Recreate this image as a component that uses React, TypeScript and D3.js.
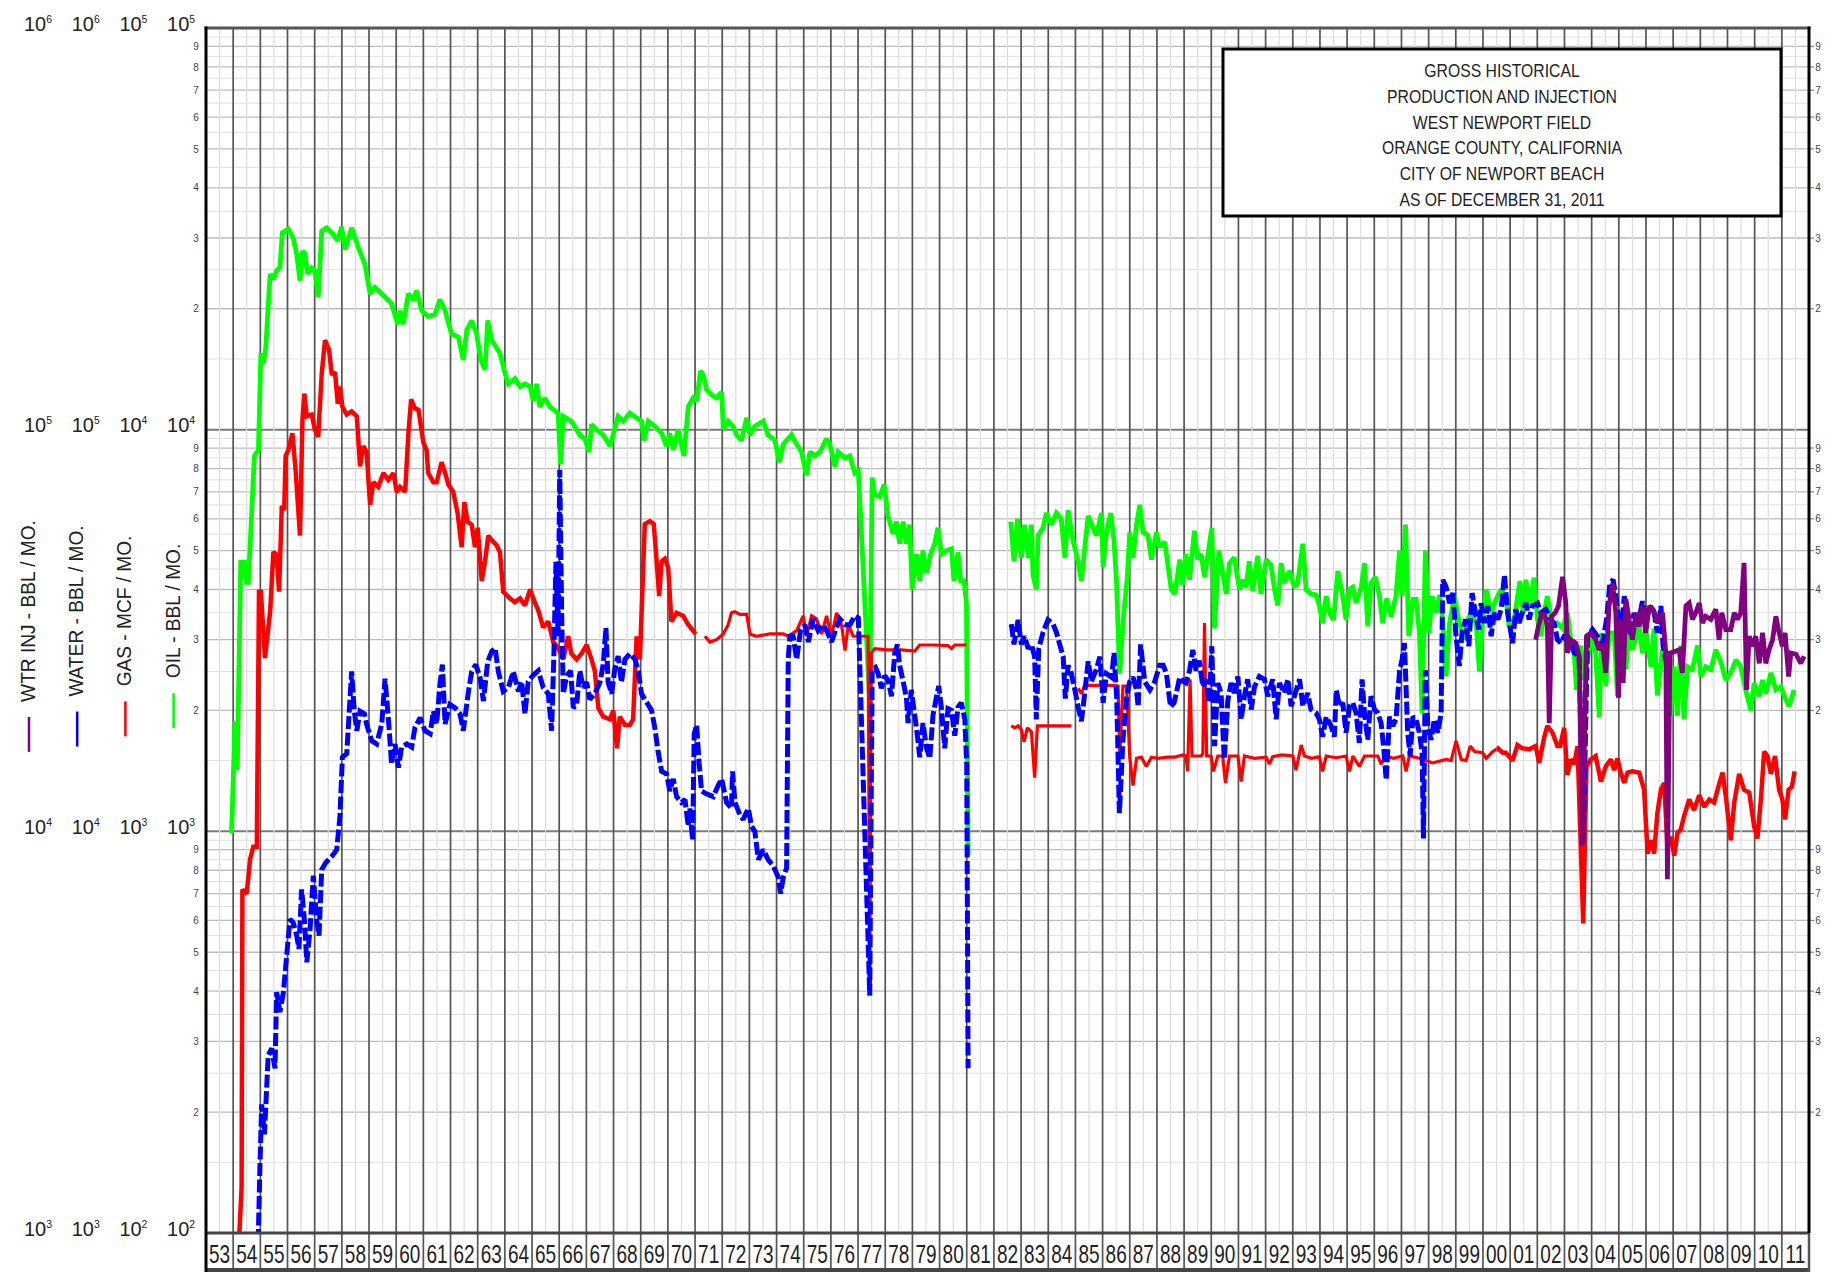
import React, { useLayoutEffect, useRef, useState } from "react";
import * as d3 from "d3";

type Pt = [number, number | null];

// ---- data ----
const years = d3.range(1953, 2012);
const yearLabels = years.map((y) => String(y % 100).padStart(2, "0"));

const titleLines = [
  "GROSS HISTORICAL",
  "PRODUCTION AND INJECTION",
  "WEST NEWPORT FIELD",
  "ORANGE COUNTY, CALIFORNIA",
  "CITY OF NEWPORT BEACH",
  "AS OF DECEMBER 31, 2011",
];

const seriesLabels = ["WTR INJ - BBL / MO.", "WATER - BBL / MO.", "GAS - MCF / MO.", "OIL - BBL / MO."];
const seriesColors = ["#800080", "#0000ff", "#ff0000", "#00ff00"];
const topExponents = [6, 6, 5, 5];
const minorLabels = [2, 3, 4, 5, 6, 7, 8, 9];

// OIL - BBL / MO.
const oil: Pt[] = [
  [1953.94, 990], [1954.07, 1880], [1954.15, 1420], [1954.28, 4680], [1954.41, 4680], [1954.5, 4170], [1954.56, 4170],
  [1954.66, 5770], [1954.78, 8600], [1954.93, 8900], [1955.02, 15500], [1955.11, 14600], [1955.2, 16000], [1955.36, 24400],
  [1955.48, 23700], [1955.6, 24900], [1955.72, 25300], [1955.81, 30900], [1956.03, 31600], [1956.21, 30000], [1956.34, 27300],
  [1956.46, 23500], [1956.55, 27800], [1956.64, 27500], [1956.74, 24400], [1956.89, 25300], [1957.01, 24900], [1957.13, 21400],
  [1957.26, 31200], [1957.44, 31800], [1957.69, 30600], [1957.85, 29500], [1957.99, 32000], [1958.12, 28100], [1958.36, 31800],
  [1958.61, 28400], [1958.85, 25800], [1959.04, 21800], [1959.22, 22600], [1959.59, 21400], [1959.83, 20600], [1960.06, 18300],
  [1960.14, 19800], [1960.26, 18300], [1960.45, 21800], [1960.63, 21000], [1960.75, 22200], [1960.94, 19800], [1961.18, 19100],
  [1961.43, 19400], [1961.61, 21100], [1961.8, 19800], [1962.04, 17300], [1962.29, 17000], [1962.47, 14900], [1962.6, 17700],
  [1962.78, 18700], [1962.96, 17300], [1963.12, 14900], [1963.27, 14100], [1963.37, 18700], [1963.52, 16700], [1963.82, 15500],
  [1964.01, 13800], [1964.13, 13000], [1964.37, 13400], [1964.56, 12800], [1964.74, 13000], [1964.93, 12800], [1965.04, 11800],
  [1965.17, 13000], [1965.29, 11400], [1965.47, 12000], [1965.66, 11400], [1965.96, 11000], [1966.05, 8200], [1966.15, 10800],
  [1966.45, 10500], [1966.76, 9700], [1966.94, 9500], [1967.1, 8800], [1967.19, 10300], [1967.37, 10000], [1967.62, 9700],
  [1967.87, 9100], [1968.17, 10800], [1968.36, 10500], [1968.6, 11000], [1968.85, 10700], [1969.03, 10500], [1969.12, 9400],
  [1969.28, 10500], [1969.52, 10200], [1969.77, 9800], [1969.95, 9100], [1970.07, 9800], [1970.2, 8900], [1970.38, 10000],
  [1970.59, 8600], [1970.75, 11400], [1970.93, 12000], [1971.06, 11800], [1971.2, 14000], [1971.3, 13700], [1971.42, 12600],
  [1971.61, 12200], [1971.79, 12000], [1971.98, 12400], [1972.04, 10000], [1972.22, 10500], [1972.4, 10200], [1972.53, 9700],
  [1972.71, 9400], [1972.9, 10700], [1973.02, 9700], [1973.2, 10200], [1973.51, 10500], [1973.69, 9700], [1973.94, 9400],
  [1974.1, 8300], [1974.25, 9200], [1974.55, 9700], [1974.74, 9200], [1974.92, 8800], [1975.1, 7700], [1975.23, 8800],
  [1975.41, 8600], [1975.6, 8800], [1975.84, 9500], [1975.96, 9200], [1976.15, 8100], [1976.27, 8800], [1976.52, 8500],
  [1976.7, 8600], [1976.88, 7800], [1977.01, 7900], [1977.43, 2090], [1977.52, 7600], [1977.61, 6900], [1977.8, 6800],
  [1977.96, 7300], [1978.1, 6100], [1978.29, 5500], [1978.41, 5900], [1978.53, 5200], [1978.66, 5900], [1978.78, 5200],
  [1978.9, 5800], [1978.99, 4000], [1979.15, 4900], [1979.27, 4200], [1979.39, 5000], [1979.52, 4400], [1979.67, 4900],
  [1979.82, 5200], [1979.94, 5700], [1980.07, 4900], [1980.25, 5000], [1980.44, 5050], [1980.53, 4200], [1980.68, 4950],
  [1980.78, 4200], [1980.9, 4200], [1980.99, 3700], [1981.05, 870], [1981.5, null],
  [1982.62, 5900], [1982.74, 4700], [1982.87, 6000], [1983.01, 4800], [1983.13, 5800], [1983.26, 4800], [1983.38, 5800],
  [1983.44, 4350], [1983.56, 4000], [1983.63, 5450], [1983.81, 5700], [1983.93, 6200], [1984.12, 5800], [1984.3, 6200],
  [1984.48, 6000], [1984.61, 4800], [1984.73, 6300], [1984.91, 5300], [1985.1, 4700], [1985.22, 4200], [1985.34, 5050],
  [1985.47, 6100], [1985.65, 5700], [1985.77, 5450], [1985.96, 6200], [1986.02, 4550], [1986.14, 5550], [1986.3, 6200],
  [1986.42, 5300], [1986.51, 4200], [1986.63, 2470], [1986.79, 3550], [1986.91, 4300], [1987.0, 5550], [1987.12, 4800],
  [1987.25, 5800], [1987.37, 6500], [1987.49, 5550], [1987.67, 5450], [1987.8, 4750], [1987.98, 5550], [1988.1, 5100],
  [1988.29, 5250], [1988.53, 4000], [1988.66, 3900], [1988.84, 4750], [1988.95, 4100], [1989.07, 4900], [1989.2, 4230],
  [1989.38, 5600], [1989.5, 4750], [1989.63, 4900], [1989.75, 4300], [1989.87, 4850], [1990.02, 5700], [1990.12, 3200],
  [1990.28, 5000], [1990.42, 4400], [1990.55, 3900], [1990.67, 4650], [1990.85, 4800], [1991.04, 4000], [1991.16, 4230],
  [1991.28, 4050], [1991.4, 4700], [1991.53, 3960], [1991.71, 4850], [1991.83, 3900], [1992.02, 4750], [1992.2, 4600],
  [1992.33, 4000], [1992.45, 3650], [1992.57, 4650], [1992.69, 4150], [1992.88, 4450], [1993.06, 4050], [1993.18, 4150],
  [1993.37, 5200], [1993.49, 4000], [1993.67, 3900], [1993.86, 3880], [1993.98, 3650], [1994.1, 3300], [1994.23, 3850],
  [1994.35, 3500], [1994.5, 3360], [1994.66, 4450], [1994.84, 3850], [1994.96, 3360], [1995.09, 4000], [1995.21, 4050],
  [1995.33, 3700], [1995.52, 4050], [1995.64, 4650], [1995.76, 3240], [1995.88, 4150], [1996.04, 4300], [1996.19, 3850],
  [1996.31, 3300], [1996.46, 3800], [1996.62, 3430], [1996.8, 3850], [1996.93, 5000], [1997.02, 3850], [1997.15, 5800],
  [1997.27, 3060], [1997.42, 3780], [1997.54, 3780], [1997.66, 3120], [1997.76, 1970], [1997.88, 5000], [1998.01, 3120],
  [1998.13, 3850], [1998.28, 3500], [1998.4, 3880], [1998.52, 3360], [1998.64, 2430], [1998.77, 3300], [1998.95, 3850],
  [1999.13, 3300], [1999.32, 3000], [1999.44, 3360], [1999.56, 3500], [1999.75, 3300], [1999.87, 2500], [1999.99, 3360],
  [2000.12, 4000], [2000.3, 3500], [2000.48, 3780], [2000.67, 4000], [2000.85, 3800], [2000.96, 3240], [2001.15, 3360],
  [2001.36, 4200], [2001.48, 3500], [2001.58, 4230], [2001.72, 3640], [2001.88, 4280], [2002.01, 3360], [2002.13, 3060],
  [2002.25, 3500], [2002.37, 3850], [2002.56, 3240], [2002.74, 3300], [2002.93, 3200], [2003.11, 3500], [2003.23, 3000],
  [2003.36, 2780], [2003.44, 2250], [2003.6, 2900], [2003.72, 2380], [2003.85, 2680], [2003.97, 3060], [2004.15, 2780],
  [2004.28, 1920], [2004.37, 3120], [2004.52, 2300], [2004.64, 3120], [2004.83, 3120], [2004.95, 2170], [2005.07, 3240],
  [2005.26, 2530], [2005.38, 3200], [2005.5, 2830], [2005.75, 3240], [2005.87, 2780], [2005.99, 3200], [2006.18, 2570],
  [2006.3, 3200], [2006.42, 2180], [2006.61, 2830], [2006.79, 2620], [2006.91, 1940], [2007.04, 2570], [2007.16, 1940],
  [2007.28, 2900], [2007.4, 1900], [2007.53, 2570], [2007.71, 2530], [2007.9, 2900], [2008.02, 2430], [2008.2, 2570],
  [2008.39, 2530], [2008.57, 2830], [2008.75, 2650], [2008.94, 2380], [2009.12, 2480], [2009.31, 2670], [2009.49, 2570],
  [2009.67, 2250], [2009.86, 2000], [2009.98, 2340], [2010.17, 2170], [2010.29, 2380], [2010.41, 2200], [2010.6, 2480],
  [2010.78, 2250], [2010.96, 2290], [2011.15, 2130], [2011.27, 2050], [2011.45, 2250],
];

// GAS - MCF / MO.
const gas: Pt[] = [
  [1954.16, 80], [1954.31, 130], [1954.34, 716], [1954.5, 700], [1954.62, 850], [1954.74, 915], [1954.87, 915],
  [1954.95, 3950], [1955.02, 3950], [1955.17, 2700], [1955.36, 3520], [1955.48, 4960], [1955.6, 4880], [1955.69, 3950],
  [1955.79, 6460], [1955.88, 6300], [1955.93, 8600], [1956.03, 8900], [1956.18, 9800], [1956.3, 7900], [1956.46, 5450],
  [1956.55, 10600], [1956.62, 12300], [1956.71, 10800], [1956.89, 10900], [1957.01, 10000], [1957.13, 9600], [1957.26, 13800],
  [1957.38, 16700], [1957.53, 15800], [1957.63, 13700], [1957.75, 13900], [1957.85, 11600], [1957.93, 12800], [1958.02, 11400],
  [1958.18, 10900], [1958.36, 11100], [1958.55, 10800], [1958.67, 8100], [1958.79, 9100], [1958.91, 8800], [1959.04, 6500],
  [1959.16, 7400], [1959.34, 7200], [1959.53, 7800], [1959.71, 7500], [1959.9, 7800], [1960.02, 7000], [1960.14, 7200],
  [1960.33, 7000], [1960.45, 9800], [1960.55, 11900], [1960.69, 11300], [1960.82, 11200], [1961.0, 9300], [1961.12, 8900],
  [1961.18, 7800], [1961.37, 7400], [1961.49, 7400], [1961.67, 8300], [1961.8, 7800], [1961.92, 7300], [1962.1, 7000],
  [1962.26, 6200], [1962.41, 5100], [1962.51, 6600], [1962.63, 5900], [1962.78, 5800], [1962.9, 5100], [1963.0, 5700],
  [1963.15, 4200], [1963.27, 4700], [1963.39, 5450], [1963.52, 5300], [1963.7, 5150], [1963.82, 4950], [1963.94, 3950],
  [1964.07, 3870], [1964.19, 3800], [1964.37, 3720], [1964.56, 3800], [1964.74, 3650], [1964.93, 4000], [1965.1, 3720],
  [1965.23, 3550], [1965.41, 3220], [1965.6, 3330], [1965.78, 2960], [1965.96, 2860], [1966.15, 2680], [1966.33, 3060],
  [1966.45, 2770], [1966.64, 2680], [1966.82, 2770], [1967.01, 2910], [1967.19, 2680], [1967.31, 2510], [1967.44, 2030],
  [1967.62, 1930], [1967.87, 1900], [1967.99, 2000], [1968.13, 1610], [1968.23, 1930], [1968.42, 1840], [1968.6, 1840],
  [1968.72, 1900], [1968.85, 3060], [1968.97, 2680], [1969.15, 5820], [1969.34, 5920], [1969.48, 5820], [1969.58, 4770],
  [1969.68, 3850], [1969.77, 4700], [1969.89, 4770], [1970.01, 4540], [1970.13, 3330], [1970.32, 3500], [1970.56, 3440],
  [1970.75, 3270], [1970.93, 3160], [1971.02, 3100], [1971.2, null],
  [1971.36, 3060], [1971.55, 2960], [1971.79, 3000], [1972.04, 3100], [1972.22, 3270], [1972.34, 3500], [1972.47, 3520],
  [1972.65, 3470], [1972.9, 3470], [1973.02, 3100], [1973.26, 3060], [1973.75, 3100], [1974.25, 3100], [1974.43, 3060],
  [1974.74, 3160], [1974.98, 3440], [1975.1, 3060], [1975.29, 3440], [1975.47, 3380], [1975.66, 3100], [1975.84, 3440],
  [1976.02, 3060], [1976.21, 3500], [1976.39, 3270], [1976.52, 2820], [1976.64, 3270], [1976.82, 3060], [1977.01, 3060],
  [1977.37, 3060], [1977.43, 450], [1977.49, 2780], [1977.61, 2850], [1978.1, 2830], [1978.6, 2830], [1979.09, 2810],
  [1979.27, 2910], [1979.82, 2910], [1980.31, 2900], [1980.44, 2850], [1980.56, 2910], [1980.99, 2910], [1981.5, null],
  [1982.64, 1830], [1982.77, 1810], [1982.89, 1830], [1983.01, 1790], [1983.11, 1670], [1983.23, 1810], [1983.38, 1770],
  [1983.5, 1360], [1983.6, 1830], [1984.24, 1830], [1984.85, 1830], [1985.0, null],
  [1985.1, 2270], [1985.22, 2200], [1985.34, 2310], [1986.45, 2310], [1986.57, 2300], [1986.63, 1530], [1986.75, 2300],
  [1986.88, 2300], [1987.0, 1530], [1987.12, 1300], [1987.25, 1520], [1987.43, 1530], [1987.61, 1450], [1987.8, 1530],
  [1988.04, 1520], [1988.41, 1530], [1988.66, 1530], [1988.96, 1550], [1989.07, 1540], [1989.13, 1410], [1989.22, 2390],
  [1989.29, 1540], [1989.63, 1540], [1989.69, 1560], [1989.75, 3300], [1989.83, 1540], [1989.99, 1540], [1990.08, 1410],
  [1990.24, 1540], [1990.42, 1540], [1990.52, 1320], [1990.67, 1540], [1990.98, 1540], [1991.1, 1330], [1991.22, 1540],
  [1991.6, 1520], [1992.02, 1530], [1992.14, 1470], [1992.26, 1535], [1992.6, 1550], [1993.0, 1540], [1993.12, 1420],
  [1993.31, 1640], [1993.43, 1540], [1993.7, 1520], [1993.98, 1535], [1994.1, 1410], [1994.23, 1540], [1994.6, 1525],
  [1994.96, 1540], [1995.09, 1410], [1995.21, 1540], [1995.45, 1450], [1995.64, 1540], [1996.13, 1540], [1996.25, 1470],
  [1996.41, 1540], [1996.7, 1520], [1997.05, 1540], [1997.17, 1410], [1997.29, 1540], [1997.66, 1520], [1998.15, 1480],
  [1998.64, 1510], [1998.83, 1500], [1999.01, 1680], [1999.2, 1510], [1999.38, 1500], [1999.53, 1630], [1999.69, 1580],
  [1999.99, 1570], [2000.12, 1520], [2000.36, 1580], [2000.55, 1610], [2000.73, 1570], [2000.84, 1570], [2001.09, 1500],
  [2001.27, 1640], [2001.45, 1610], [2001.7, 1600], [2001.94, 1630], [2002.07, 1480], [2002.25, 1710], [2002.37, 1830],
  [2002.56, 1760], [2002.74, 1630], [2002.84, 1630], [2002.99, 1810], [2003.11, 1380], [2003.23, 1510], [2003.36, 1470],
  [2003.48, 1630], [2003.6, 920], [2003.69, 590], [2003.81, 1450], [2003.97, 1510], [2004.15, 1540], [2004.34, 1330],
  [2004.52, 1450], [2004.71, 1510], [2004.83, 1420], [2004.95, 1520], [2005.07, 1400], [2005.2, 1320], [2005.32, 1400],
  [2005.5, 1410], [2005.75, 1400], [2005.93, 1270], [2006.06, 880], [2006.18, 950], [2006.3, 880], [2006.42, 1110],
  [2006.55, 1270], [2006.67, 1320], [2006.79, 920], [2006.91, 970], [2007.04, 870], [2007.16, 990], [2007.28, 1010],
  [2007.4, 1090], [2007.59, 1200], [2007.77, 1130], [2007.96, 1230], [2008.14, 1150], [2008.33, 1200], [2008.51, 1180],
  [2008.69, 1310], [2008.82, 1400], [2008.94, 1220], [2009.12, 950], [2009.25, 1180], [2009.43, 1390], [2009.61, 1270],
  [2009.8, 1250], [2009.98, 1030], [2010.1, 960], [2010.23, 1200], [2010.35, 1580], [2010.47, 1540], [2010.6, 1390],
  [2010.75, 1540], [2010.9, 1270], [2011.02, 1200], [2011.12, 1070], [2011.25, 1270], [2011.37, 1290], [2011.47, 1410],
];

// WATER - BBL / MO.
const water: Pt[] = [
  [1954.92, 950], [1954.99, 1510], [1955.05, 2090], [1955.15, 1760], [1955.21, 2130], [1955.29, 2770], [1955.42, 2880],
  [1955.54, 2570], [1955.6, 3980], [1955.72, 3550], [1955.85, 3980], [1955.97, 4900], [1956.09, 6040], [1956.21, 5930],
  [1956.34, 5500], [1956.42, 5100], [1956.52, 7170], [1956.62, 6040], [1956.71, 4720], [1956.83, 5700], [1956.95, 7760],
  [1957.07, 6040], [1957.16, 5500], [1957.26, 8030], [1957.4, 8340], [1957.63, 8660], [1957.81, 8990], [1957.93, 10900],
  [1958.02, 15300], [1958.18, 15600], [1958.36, 25000], [1958.46, 19900], [1958.55, 17800], [1958.67, 19900], [1958.83, 19600],
  [1958.91, 18500], [1959.1, 16800], [1959.28, 16500], [1959.47, 18500], [1959.59, 24000], [1959.71, 19200], [1959.83, 14700],
  [1959.96, 16500], [1960.08, 14400], [1960.2, 16200], [1960.39, 16500], [1960.57, 16200], [1960.69, 18100], [1960.88, 19200],
  [1961.06, 17800], [1961.25, 17500], [1961.37, 19900], [1961.49, 18500], [1961.61, 23200], [1961.7, 26000], [1961.8, 18500],
  [1961.98, 20700], [1962.17, 20300], [1962.35, 19600], [1962.47, 17800], [1962.66, 22300], [1962.78, 25000], [1962.93, 26000],
  [1963.09, 24100], [1963.21, 21100], [1963.37, 26500], [1963.52, 28100], [1963.64, 28600], [1963.76, 25000], [1963.94, 22300],
  [1964.13, 22800], [1964.31, 25000], [1964.5, 22300], [1964.62, 23600], [1964.74, 19600], [1964.86, 23600], [1965.05, 24500],
  [1965.23, 25100], [1965.41, 22800], [1965.6, 22000], [1965.72, 17800], [1965.8, 26800], [1965.88, 46900], [1965.96, 30600],
  [1966.02, 79400], [1966.09, 34900], [1966.15, 22000], [1966.27, 24300], [1966.42, 25100], [1966.52, 20300], [1966.64, 20600],
  [1966.76, 25100], [1966.88, 22800], [1967.01, 23500], [1967.13, 21300], [1967.31, 22000], [1967.5, 23500], [1967.62, 26000],
  [1967.72, 32100], [1967.8, 23500], [1967.93, 22000], [1968.05, 25500], [1968.17, 27300], [1968.29, 23500], [1968.42, 26800],
  [1968.6, 27700], [1968.79, 26800], [1968.91, 25100], [1969.03, 22000], [1969.21, 21000], [1969.4, 20000], [1969.52, 18100],
  [1969.64, 15800], [1969.77, 14100], [1969.95, 13900], [1970.07, 12600], [1970.2, 13500], [1970.32, 12200], [1970.5, 11800],
  [1970.63, 12000], [1970.75, 10300], [1970.81, 11400], [1970.91, 9500], [1970.97, 17500], [1971.06, 18400], [1971.15, 14800],
  [1971.24, 12600], [1971.42, 12400], [1971.67, 12200], [1971.85, 13000], [1971.98, 13500], [1972.16, 11800], [1972.34, 11400],
  [1972.38, 14100], [1972.47, 11800], [1972.65, 11000], [1972.77, 10700], [1972.96, 11400], [1973.08, 10300], [1973.2, 10000],
  [1973.33, 8500], [1973.51, 9000], [1973.69, 8500], [1973.88, 8200], [1974.06, 7700], [1974.15, 7000], [1974.25, 7700],
  [1974.37, 8100], [1974.43, 26800], [1974.49, 30600], [1974.61, 30600], [1974.74, 26800], [1974.88, 31600], [1975.04, 32700],
  [1975.17, 29600], [1975.35, 33800], [1975.53, 31600], [1975.72, 32700], [1975.9, 31000], [1976.02, 29600], [1976.21, 32200],
  [1976.33, 33800], [1976.52, 32700], [1976.7, 32700], [1976.88, 34400], [1977.01, 34000], [1977.43, 3900], [1977.52, 25300],
  [1977.64, 25600], [1977.74, 24700], [1977.86, 22700], [1977.98, 24400], [1978.1, 23800], [1978.23, 21700], [1978.35, 27800],
  [1978.45, 29200], [1978.53, 25900], [1978.66, 23600], [1978.78, 21500], [1978.84, 18600], [1978.96, 22500], [1979.06, 20000],
  [1979.15, 18100], [1979.27, 15300], [1979.39, 18600], [1979.52, 16100], [1979.64, 15200], [1979.76, 19500], [1979.88, 21500],
  [1979.97, 23000], [1980.07, 20200], [1980.19, 16100], [1980.31, 20200], [1980.44, 20000], [1980.56, 17300], [1980.68, 20400],
  [1980.8, 20900], [1980.93, 19000], [1981.0, 14600], [1981.05, 2570], [1981.5, null],
  [1982.64, 32800], [1982.74, 29200], [1982.89, 33600], [1983.01, 29200], [1983.13, 30600], [1983.26, 28500], [1983.38, 29200],
  [1983.5, 27200], [1983.56, 19000], [1983.65, 28500], [1983.81, 31300], [1983.99, 33600], [1984.18, 32800], [1984.3, 31300],
  [1984.42, 29200], [1984.55, 27200], [1984.63, 21400], [1984.73, 25900], [1984.85, 24700], [1984.98, 22500], [1985.1, 20400],
  [1985.22, 18800], [1985.34, 22000], [1985.47, 26500], [1985.59, 23600], [1985.77, 25300], [1985.9, 27200], [1986.02, 20900],
  [1986.14, 24700], [1986.33, 24200], [1986.42, 27800], [1986.52, 21400], [1986.62, 11100], [1986.75, 16900], [1986.88, 21400],
  [1987.0, 23600], [1987.12, 24200], [1987.25, 22500], [1987.31, 20400], [1987.4, 29200], [1987.55, 23600], [1987.74, 22500],
  [1987.92, 23600], [1988.1, 25900], [1988.23, 25900], [1988.35, 24700], [1988.5, 20400], [1988.63, 20900], [1988.71, 22000],
  [1988.84, 24200], [1988.96, 23600], [1989.07, 23400], [1989.2, 25100], [1989.32, 28300], [1989.44, 25100], [1989.56, 26600],
  [1989.69, 22900], [1989.81, 23900], [1989.93, 20900], [1990.02, 28900], [1990.12, 16300], [1990.24, 23400], [1990.36, 22100],
  [1990.48, 15100], [1990.61, 21200], [1990.73, 23400], [1990.85, 22100], [1990.98, 24300], [1991.1, 19000], [1991.22, 21700],
  [1991.34, 23900], [1991.47, 20100], [1991.59, 22900], [1991.77, 24300], [1991.96, 23900], [1992.08, 21700], [1992.26, 23900],
  [1992.39, 19000], [1992.51, 23400], [1992.69, 22100], [1992.82, 23900], [1992.94, 20500], [1993.06, 21700], [1993.25, 23900],
  [1993.37, 20500], [1993.55, 22100], [1993.67, 20100], [1993.86, 19700], [1993.98, 19000], [1994.1, 17200], [1994.23, 19300],
  [1994.41, 18300], [1994.53, 17200], [1994.6, 22500], [1994.72, 20500], [1994.84, 20900], [1994.96, 17600], [1995.09, 20500],
  [1995.21, 20900], [1995.33, 19700], [1995.45, 16600], [1995.55, 23900], [1995.64, 19700], [1995.76, 16900], [1995.88, 21700],
  [1996.01, 20100], [1996.13, 19700], [1996.25, 18600], [1996.34, 16300], [1996.44, 13400], [1996.56, 19300], [1996.68, 18300],
  [1996.8, 19000], [1996.93, 25100], [1997.02, 26700], [1997.11, 29400], [1997.23, 17600], [1997.32, 15400], [1997.42, 19300],
  [1997.54, 19000], [1997.66, 17600], [1997.76, 15700], [1997.81, 9600], [1997.88, 25200], [1997.97, 18300], [1998.09, 16900],
  [1998.21, 19000], [1998.34, 17600], [1998.46, 19700], [1998.52, 42300], [1998.64, 40700], [1998.77, 37000], [1998.89, 39200],
  [1999.01, 30600], [1999.13, 25800], [1999.23, 31200], [1999.36, 33700], [1999.48, 28900], [1999.6, 39200], [1999.72, 35000],
  [1999.85, 31800], [1999.93, 37000], [2000.06, 33000], [2000.18, 36400], [2000.3, 30600], [2000.42, 35000], [2000.55, 33700],
  [2000.67, 35700], [2000.79, 43500], [2000.91, 35000], [2001.09, 29400], [2001.21, 35700], [2001.33, 33000], [2001.45, 35000],
  [2001.58, 37000], [2001.7, 33700], [2001.82, 36400], [2002.01, 37000], [2002.13, 35000], [2002.31, 35700], [2002.5, 33700],
  [2002.62, 33000], [2002.74, 30000], [2002.87, 29400], [2002.99, 30600], [2003.11, 30600], [2003.23, 29400], [2003.36, 27800],
  [2003.54, 27300], [2003.69, 9400], [2003.85, 30600], [2004.03, 31800], [2004.21, 30600], [2004.4, 29400], [2004.55, 33700],
  [2004.67, 41400], [2004.79, 42300], [2004.91, 37800], [2005.07, 30000], [2005.2, 38500], [2005.32, 33700], [2005.44, 30600],
  [2005.56, 35000], [2005.69, 32400], [2005.87, 37400], [2005.99, 33700], [2006.18, 36400], [2006.3, 35000], [2006.42, 31200],
  [2006.55, 36400], [2006.63, 28900], [2006.73, 26700],
];

// WTR INJ - BBL / MO.
const wtrInj: Pt[] = [
  [2001.94, 30000], [2002.04, 32400], [2002.17, 35000], [2002.29, 34300], [2002.37, 32400], [2002.44, 18600], [2002.53, 34300],
  [2002.66, 35000], [2002.78, 36400], [2002.93, 43000], [2003.05, 37000], [2003.11, 27800], [2003.23, 30000], [2003.42, 29400],
  [2003.54, 27300], [2003.66, 9200], [2003.81, 30600], [2003.97, 31200], [2004.15, 30000], [2004.28, 28300], [2004.4, 29400],
  [2004.52, 24800], [2004.64, 36400], [2004.77, 41400], [2004.89, 35000], [2004.99, 21500], [2005.07, 33700], [2005.16, 23400],
  [2005.26, 37800], [2005.4, 33000], [2005.5, 30000], [2005.63, 35000], [2005.75, 32400], [2005.87, 36400], [2005.99, 31200],
  [2006.12, 36400], [2006.26, 35700], [2006.42, 33000], [2006.61, 35000], [2006.73, 27800], [2006.79, 7600], [2006.88, 27800],
  [2007.04, 28000], [2007.22, 28300], [2007.34, 24800], [2007.47, 36400], [2007.59, 37000], [2007.71, 33700], [2007.83, 35000],
  [2007.96, 37000], [2008.08, 33000], [2008.2, 34300], [2008.39, 33700], [2008.57, 35700], [2008.69, 30000], [2008.79, 35000],
  [2008.94, 31800], [2009.12, 31800], [2009.25, 35000], [2009.37, 33700], [2009.49, 35000], [2009.61, 46600], [2009.7, 22500],
  [2009.8, 30600], [2009.92, 28900], [2010.04, 30600], [2010.17, 26200], [2010.29, 31200], [2010.41, 26200], [2010.53, 28300],
  [2010.66, 30000], [2010.78, 34300], [2010.9, 31200], [2011.02, 28900], [2011.12, 31200], [2011.25, 24300], [2011.33, 27800],
  [2011.52, 27600], [2011.7, 26200], [2011.82, 27300],
];

// ---- layout ----
const W = 1839;
const H = 1283;
const X0 = 206;
const X1 = 1809;
const Y0 = 28;
const Y1 = 1233;
const LABEL_BOTTOM = 1270;
const FONT = "'Liberation Sans', Arial, sans-serif";

const x = d3.scaleLinear().domain([1953, 2012]).range([X0, X1]);
const yBase = d3.scaleLog().domain([1e2, 1e5]).range([Y1, Y0]); // oil, gas
const yWater = d3.scaleLog().domain([1e3, 1e6]).range([Y1, Y0]); // water, wtr inj

const gridRows: { v: number; kind: string }[] = [];
[1e2, 1e3, 1e4].forEach((k) =>
  d3.range(1, 10, 0.5).forEach((m) =>
    gridRows.push({ v: k * m, kind: m === 1 ? "decade" : Number.isInteger(m) ? "major" : "minor" })
  )
);

// gas is drawn heavier in the early and late years, lighter in between
const gasBands = [
  { from: 1953, to: 1971.2, width: 4.5 },
  { from: 1971.2, to: 2000.5, width: 3.2 },
  { from: 2000.5, to: 2012, width: 4.5 },
];

const makeLine = (ys: d3.ScaleLogarithmic<number, number>) =>
  d3
    .line<Pt>()
    .defined((d) => d[1] != null)
    .x((d) => x(d[0]))
    .y((d) => ys(d[1] as number));

function Legend() {
  const refs = useRef<(SVGTextElement | null)[]>([]);
  const sx = 0.91;
  const [lens, setLens] = useState<number[]>(seriesLabels.map(() => 170));
  useLayoutEffect(() => {
    setLens(refs.current.map((t) => (t ? t.getComputedTextLength() * sx : 170)));
  }, []);
  const cy = 611;
  return (
    <g>
      {seriesLabels.map((label, i) => {
        const cx = 27.5 + 48.2 * i;
        const start = cy + lens[i] / 2 + 15;
        return (
          <g key={label}>
            <text
              ref={(el) => (refs.current[i] = el)}
              transform={`translate(${cx + 7.5},${cy}) rotate(-90) scale(${sx},1)`}
              textAnchor="middle"
              fontSize={21}
              fill="#222"
            >
              {label}
            </text>
            <line x1={cx + 1.5} x2={cx + 1.5} y1={start} y2={start + 35} stroke={seriesColors[i]} strokeWidth={2.5} />
          </g>
        );
      })}
    </g>
  );
}

export default function App() {
  const oilLine = makeLine(yBase)(oil) || "";
  const gasLine = makeLine(yBase)(gas) || "";
  const waterLine = makeLine(yWater)(water) || "";
  const injLine = makeLine(yWater)(wtrInj) || "";
  return (
    <svg
      width={W}
      height={H}
      style={{ position: "absolute", left: 0, top: 0, background: "#fff" }}
      fontFamily={FONT}
    >
      <defs>
        <clipPath id="plot">
          <rect x={X0} y={Y0} width={X1 - X0} height={Y1 - Y0} />
        </clipPath>
        {gasBands.map((b, i) => (
          <clipPath id={`gas${i}`} key={i}>
            <rect x={x(b.from)} y={Y0} width={x(b.to) - x(b.from)} height={Y1 - Y0} />
          </clipPath>
        ))}
      </defs>
      <rect width={W} height={H} fill="#fff" />

      {/* horizontal grid */}
      {gridRows.map((r) => (
        <line
          key={r.v}
          x1={X0}
          x2={X1}
          y1={yBase(r.v)}
          y2={yBase(r.v)}
          stroke={r.kind === "decade" ? "#7a7a7a" : r.kind === "major" ? "#bdbdbd" : "#e0e0e0"}
          strokeWidth={r.kind === "decade" ? 2 : r.kind === "major" ? 1.3 : 1}
        />
      ))}
      {/* vertical grid */}
      {years.map((yr) => (
        <line key={`h${yr}`} x1={x(yr + 0.5)} x2={x(yr + 0.5)} y1={Y0} y2={Y1} stroke="#dcdcdc" strokeWidth={1.2} />
      ))}
      {d3.range(1954, 2012).map((yr) => (
        <line key={`y${yr}`} x1={x(yr)} x2={x(yr)} y1={Y0} y2={LABEL_BOTTOM} stroke="#555" strokeWidth={1.7} />
      ))}

      {/* minor value labels, both sides */}
      {[1e2, 1e3, 1e4].map((k) =>
        minorLabels.map((m) => (
          <g key={`ml${k * m}`} fontSize={10} fill="#444">
            <text x={196} y={yBase(k * m)} dy="0.36em" textAnchor="middle">
              {m}
            </text>
            <line x1={X1} x2={X1 + 5} y1={yBase(k * m)} y2={yBase(k * m)} stroke="#888" strokeWidth={1.2} />
            <text x={1818} y={yBase(k * m)} dy="0.36em" textAnchor="middle">
              {m}
            </text>
          </g>
        ))
      )}

      {/* exponent labels per series column */}
      {d3.range(4).map((r) =>
        topExponents.map((e, c) => (
          <text
            key={`e${r}${c}`}
            transform={`translate(${24 + 47.7 * c},${yBase(1e5 / 10 ** r) + 2.5}) scale(0.95,1)`}
            fontSize={21}
            fill="#222"
          >
            10
            <tspan dy={-8} fontSize={11}>
              {e - r}
            </tspan>
          </text>
        ))
      )}

      <Legend />

      {/* series */}
      <g clipPath="url(#plot)" fill="none" strokeLinejoin="miter" strokeMiterlimit={2}>
        <path d={oilLine} stroke={seriesColors[3]} strokeWidth={4.8} />
        {gasBands.map((b, i) => (
          <g key={i} clipPath={`url(#gas${i})`}>
            <path d={gasLine} stroke={seriesColors[2]} strokeWidth={b.width} />
          </g>
        ))}
        <path d={waterLine} stroke={seriesColors[1]} strokeWidth={5} strokeDasharray="13 3.5" />
        <path d={injLine} stroke={seriesColors[0]} strokeWidth={4.8} />
      </g>

      {/* frame */}
      <line x1={X0 - 1.5} x2={X1 + 1.5} y1={Y0} y2={Y0} stroke="#555" strokeWidth={3} />
      <line x1={X0} x2={X1} y1={Y1} y2={Y1} stroke="#444" strokeWidth={3} />
      <line x1={X0} x2={X1 + 1} y1={LABEL_BOTTOM} y2={LABEL_BOTTOM} stroke="#444" strokeWidth={4} />
      <line x1={X0} x2={X0} y1={Y0 - 1.5} y2={LABEL_BOTTOM + 2} stroke="#000" strokeWidth={3} />
      <line x1={X1} x2={X1} y1={Y0 - 1.5} y2={Y1} stroke="#000" strokeWidth={3} />
      <line x1={X1} x2={X1} y1={Y1} y2={LABEL_BOTTOM + 2} stroke="#555" strokeWidth={2.5} />

      {/* year labels */}
      {years.map((yr, i) => (
        <text
          key={`yl${yr}`}
          transform={`translate(${x(yr + 0.5)},1263) scale(0.76,1)`}
          textAnchor="middle"
          fontSize={25}
          fill="#222"
        >
          {yearLabels[i]}
        </text>
      ))}

      {/* title box */}
      <rect x={1223} y={49} width={558} height={167} fill="#fff" stroke="#000" strokeWidth={3} />
      {titleLines.map((t, i) => (
        <text
          key={t}
          transform={`translate(1502,${77 + 25.8 * i}) scale(0.9,1)`}
          textAnchor="middle"
          fontSize={17.5}
          fill="#222"
        >
          {t}
        </text>
      ))}
    </svg>
  );
}
